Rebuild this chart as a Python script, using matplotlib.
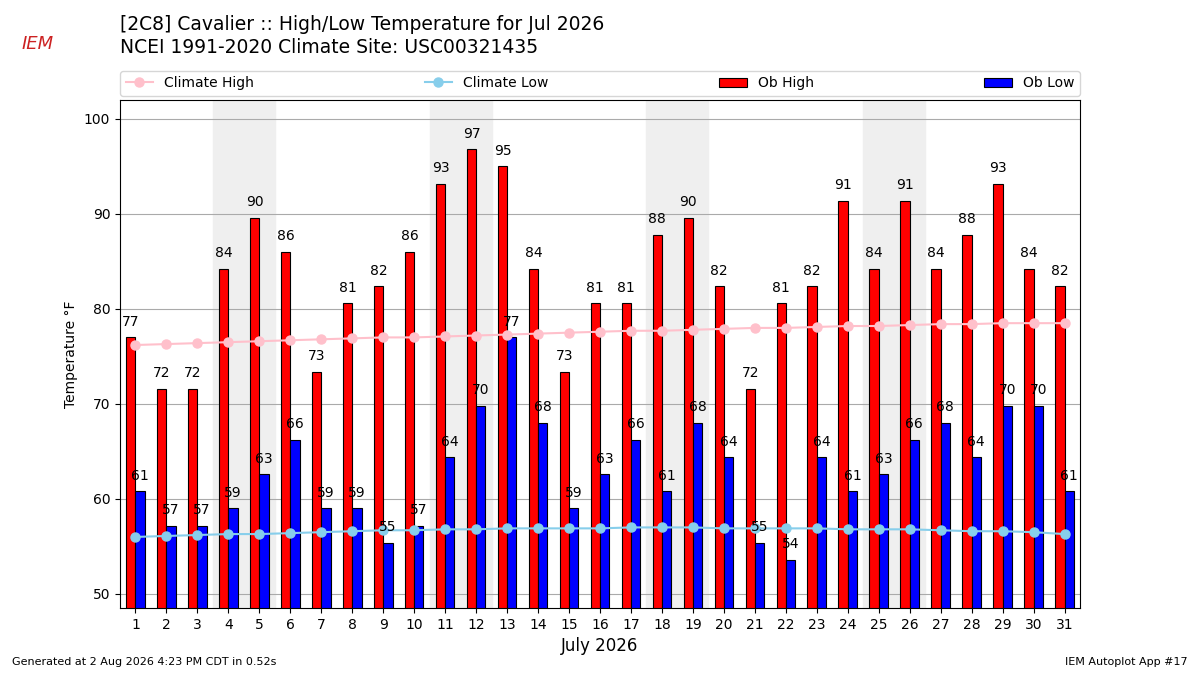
import matplotlib
matplotlib.use("Agg")
import matplotlib.pyplot as plt
import numpy as np

days = list(range(1, 32))
ob_high = [77.0,71.6,71.6,84.2,89.6,86.0,73.4,80.6,82.4,86.0,93.2,96.8,95.0,84.2,73.4,80.6,80.6,87.8,89.6,82.4,71.6,80.6,82.4,91.4,84.2,91.4,84.2,87.8,93.2,84.2,82.4]
ob_low = [60.8,57.2,57.2,59.0,62.6,66.2,59.0,59.0,55.4,57.2,64.4,69.8,77.0,68.0,59.0,62.6,66.2,60.8,68.0,64.4,55.4,53.6,64.4,60.8,62.6,66.2,68.0,64.4,69.8,69.8,60.8]
clim_high = [76.2,76.3,76.4,76.5,76.6,76.7,76.8,76.9,77.0,77.0,77.1,77.2,77.3,77.4,77.5,77.6,77.7,77.7,77.8,77.9,78.0,78.0,78.1,78.2,78.2,78.3,78.4,78.4,78.5,78.5,78.5]
clim_low = [56.0,56.1,56.2,56.3,56.3,56.4,56.5,56.6,56.7,56.7,56.8,56.8,56.9,56.9,56.9,56.9,57.0,57.0,57.0,56.9,56.9,56.9,56.9,56.8,56.8,56.8,56.7,56.6,56.6,56.5,56.3]
weekends = [4, 11, 18, 25]

fig = plt.figure(figsize=(12, 6.75), dpi=100)
ax = fig.add_axes([0.1, 0.099, 0.8, 0.753])
x = np.array(days)
for w in weekends:
    ax.axvspan(w - 0.5, w + 1.5, color="#efefef", zorder=0)
w = 0.3
bh = ax.bar(x - w/2, ob_high, w, color="red", edgecolor="black", linewidth=0.8, label="Ob High", zorder=2)
bl = ax.bar(x + w/2, ob_low, w, color="blue", edgecolor="black", linewidth=0.8, label="Ob Low", zorder=2)
for xi, v in zip(x, ob_high):
    ax.text(xi - w/2, v + 0.9, f"{v:.0f}", ha="center", va="bottom", fontsize=10, zorder=4)
for xi, v in zip(x, ob_low):
    ax.text(xi + w/2, v + 0.9, f"{v:.0f}", ha="center", va="bottom", fontsize=10, zorder=4)
lh, = ax.plot(x, clim_high, "-o", color="pink", markersize=6.5, lw=1.5, label="Climate High", zorder=3)
ll, = ax.plot(x, clim_low, "-o", color="skyblue", markersize=6.5, lw=1.5, label="Climate Low", zorder=3)
ax.set_xlim(0.5, 31.5)
ax.set_ylim(48.5, 102)
ax.set_xticks(days)
ax.set_yticks(range(50, 101, 10))
ax.grid(axis="y", color="#aaaaaa", lw=0.8)
ax.set_axisbelow(True)
ax.set_ylabel("Temperature °F")
ax.set_xlabel("July 2026", fontsize=12)
ax.tick_params(labelsize=10)
fig.legend([lh, ll, bh, bl], ["Climate High", "Climate Low", "Ob High", "Ob Low"],
           loc="lower left", bbox_to_anchor=(0.1, 0.858, 0.8, 0.04), mode="expand",
           ncol=4, fontsize=10, borderaxespad=0)
fig.text(0.1, 0.963, "[2C8] Cavalier :: High/Low Temperature for Jul 2026", fontsize=13.5, va="center")
fig.text(0.1, 0.930, "NCEI 1991-2020 Climate Site: USC00321435", fontsize=13.5, va="center")
fig.text(0.018, 0.935, "IEM", fontsize=13, color="#cc2222", style="italic", va="center")
fig.text(0.01, 0.015, "Generated at 2 Aug 2026 4:23 PM CDT in 0.52s", fontsize=8)
fig.text(0.99, 0.015, "IEM Autoplot App #17", fontsize=8, ha="right")
fig.savefig("out.png")
